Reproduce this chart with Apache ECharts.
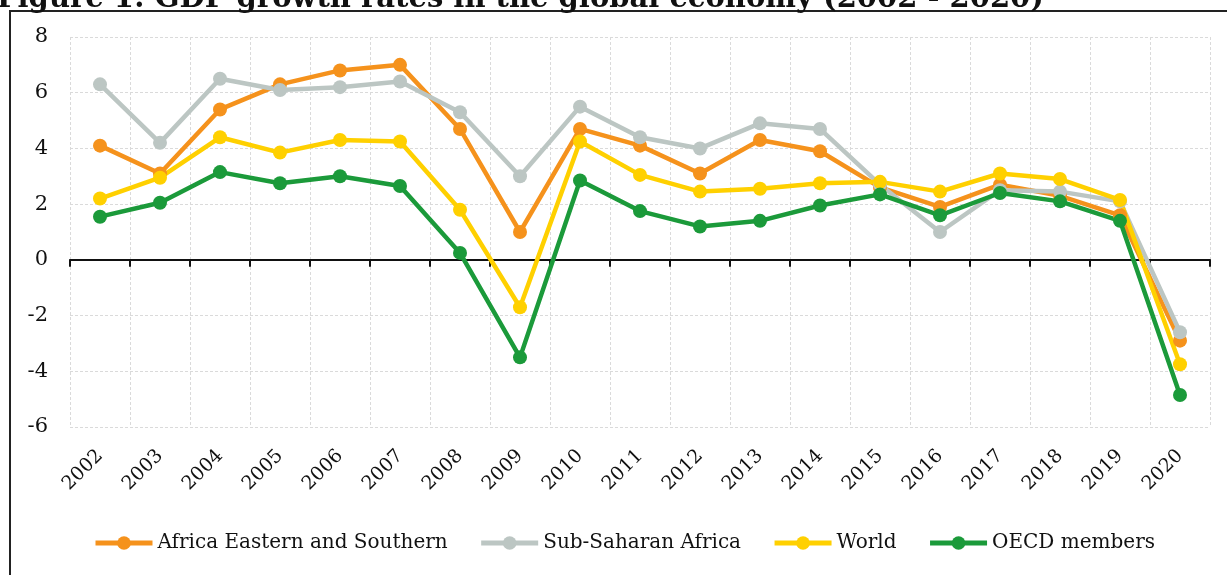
<!DOCTYPE html>
<html>
<head>
<meta charset="utf-8">
<script src="https://cdn.jsdelivr.net/npm/echarts@6/dist/echarts.min.js"></script>
<style>
html,body{margin:0;padding:0;background:#fff;}
#chart{width:1227px;height:575px;}
</style>
</head>
<body>
<div id="chart"></div>
<script>
const years = ['2002','2003','2004','2005','2006','2007','2008','2009','2010','2011','2012','2013','2014','2015','2016','2017','2018','2019','2020'];
const africaES = [4.1, 3.1, 5.4, 6.3, 6.8, 7.0, 4.7, 1.0, 4.7, 4.1, 3.1, 4.3, 3.9, 2.6, 1.9, 2.7, 2.3, 1.6, -2.9];
const subSahara = [6.3, 4.2, 6.5, 6.1, 6.2, 6.4, 5.3, 3.0, 5.5, 4.4, 4.0, 4.9, 4.7, 2.7, 1.0, 2.5, 2.45, 2.1, -2.6];
const world = [2.2, 2.95, 4.4, 3.85, 4.3, 4.25, 1.8, -1.7, 4.25, 3.05, 2.45, 2.55, 2.75, 2.8, 2.45, 3.1, 2.9, 2.15, -3.75];
const oecd = [1.55, 2.05, 3.15, 2.75, 3.0, 2.65, 0.25, -3.5, 2.85, 1.75, 1.2, 1.4, 1.95, 2.35, 1.6, 2.4, 2.1, 1.4, -4.85];
const seriesNames = ['Africa Eastern and Southern', 'Sub-Saharan Africa', 'World', 'OECD members'];
const titleText = 'Figure 1: GDP growth rates in the global economy (2002 - 2020)';

const colors = ['#f5921c', '#bcc6c3', '#ffd000', '#1b9a3a'];
const serif = 'DejaVu Serif';

function mkSeries(name, data, color) {
  return {
    name: name, type: 'line', data: data, xAxisIndex: 0, yAxisIndex: 0,
    symbol: 'circle', symbolSize: 14,
    lineStyle: {color: color, width: 4.5},
    itemStyle: {color: color},
    emphasis: {disabled: true}
  };
}

const chart = echarts.init(document.getElementById('chart'), null, {renderer: 'canvas'});
chart.setOption({
  animation: false,
  backgroundColor: '#fff',
  color: colors,
  graphic: [
    {type: 'rect', shape: {x: 10, y: 11, width: 1400, height: 800}, style: {fill: 'none', stroke: '#222', lineWidth: 2}, z: 100},
    {type: 'text', style: {x: -3, y: 14, text: titleText, font: 'bold 29px "DejaVu Serif"', fill: '#111', textVerticalAlign: 'bottom'}, z: 100}
  ],
  grid: {left: 70, right: 17, top: 37, bottom: 148, containLabel: false},
  legend: {
    left: 88, top: 528,
    itemWidth: 57, itemHeight: 17, itemGap: 31,
    lineStyle: {width: 5},
    textStyle: {fontFamily: serif, fontSize: 20, color: '#111'},
    data: seriesNames
  },
  xAxis: [
    {
      type: 'category', data: years, position: 'bottom', boundaryGap: true,
      axisLine: {show: false, onZero: false},
      axisTick: {show: false},
      axisLabel: {rotate: 45, fontFamily: serif, fontSize: 19, color: '#111', margin: 26, interval: 0},
      splitLine: {show: true, interval: 0, lineStyle: {color: '#dadada', type: [3, 2], width: 1}}
    },
    {
      type: 'category', data: years, position: 'top', boundaryGap: true,
      axisLine: {show: true, onZero: true, lineStyle: {color: '#111', width: 2}},
      axisTick: {show: true, inside: true, length: 7, interval: 0, lineStyle: {color: '#111', width: 2}},
      axisLabel: {show: false},
      splitLine: {show: false}
    }
  ],
  yAxis: {
    type: 'value', min: -6, max: 8, interval: 2,
    axisLine: {show: false},
    axisTick: {show: false},
    axisLabel: {fontFamily: serif, fontSize: 21, color: '#111', margin: 22},
    splitLine: {show: true, lineStyle: {color: '#dadada', type: [3, 2], width: 1}}
  },
  series: [
    mkSeries(seriesNames[0], africaES, colors[0]),
    mkSeries(seriesNames[1], subSahara, colors[1]),
    mkSeries(seriesNames[2], world, colors[2]),
    mkSeries(seriesNames[3], oecd, colors[3])
  ]
});
</script>
</body>
</html>
